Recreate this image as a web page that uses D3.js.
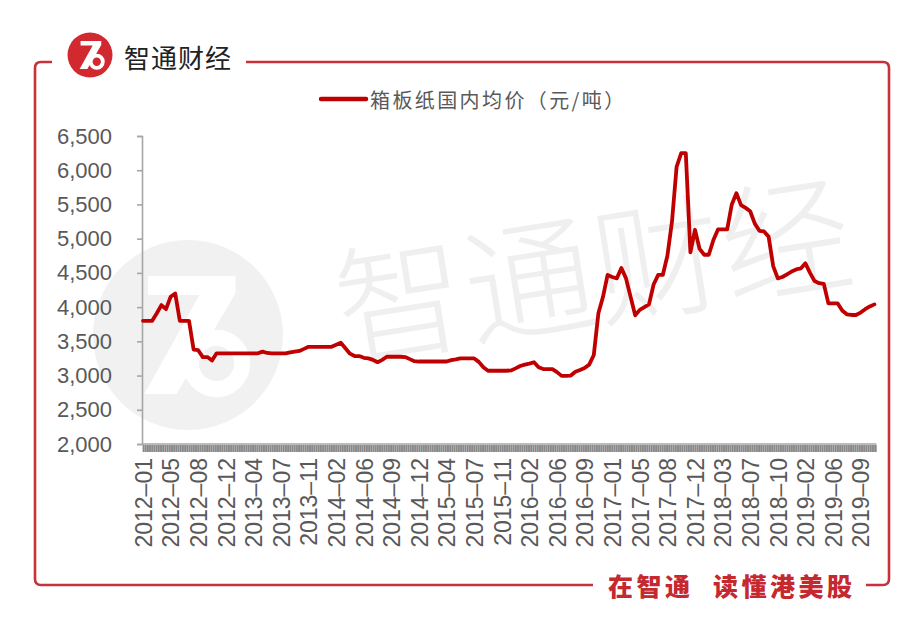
<!DOCTYPE html>
<html>
<head>
<meta charset="utf-8">
<script src="https://cdn.jsdelivr.net/npm/d3@7"></script>
<style>
  body { margin: 0; background: #fff; }
  svg { display: block; }
</style>
</head>
<body>
<svg id="chart" width="924" height="641"></svg>
<script>
// ---------- data ----------
const brandName = "智通财经";
const footerLeft = "在智通";
const footerRight = "读懂港美股";
const seriesName = "箱板纸国内均价（元/吨）";

const tickLabels = [
  "2012-01","2012-05","2012-08","2012-12","2013-04","2013-07","2013-11",
  "2014-02","2014-06","2014-09","2014-12","2015-04","2015-07","2015-11",
  "2016-02","2016-06","2016-09","2017-01","2017-05","2017-08","2017-12",
  "2018-03","2018-07","2018-10","2019-02","2019-06","2019-09"
];
const pointsPerLabel = 6;

const yTicks = [2000, 2500, 3000, 3500, 4000, 4500, 5000, 5500, 6000, 6500];

const values = [
  3800,3800,3800,3910,4030,3970,4150,4200,3800,3800,
  3800,3380,3370,3270,3270,3220,3325,3325,3325,3325,
  3325,3325,3325,3325,3325,3325,3350,3330,3325,3325,
  3325,3325,3340,3350,3360,3390,3420,3420,3420,3420,
  3420,3420,3450,3480,3400,3320,3285,3285,3260,3250,
  3230,3195,3230,3275,3275,3275,3275,3270,3240,3210,
  3205,3205,3205,3205,3205,3205,3205,3225,3235,3250,
  3250,3250,3250,3200,3120,3070,3070,3070,3070,3070,
  3075,3105,3140,3160,3175,3195,3120,3095,3095,3095,
  3050,2995,2995,3000,3055,3080,3110,3160,3300,3910,
  4150,4470,4440,4420,4570,4420,4150,3880,3960,4000,
  4040,4330,4470,4470,4750,5250,6050,6250,6250,4800,
  5130,4850,4765,4765,4980,5135,5135,5135,5500,5665,
  5490,5450,5400,5220,5115,5105,5030,4600,4420,4440,
  4480,4520,4550,4565,4640,4500,4380,4350,4340,4055,
  4055,4055,3950,3895,3885,3885,3920,3970,4010,4040
];

// ---------- setup ----------
const svg = d3.select("#chart");
const RED = "#c8313a";
const LINE_RED = "#c00000";
const GREY_TXT = "#595959";
const AXIS_GREY = "#a6a6a6";
const cjk = "'Noto Sans CJK SC', 'Noto Sans', sans-serif";
const latin = "'Liberation Sans', Arial, sans-serif";

const nIntervals = tickLabels.length - 1;
const x = d3.scaleLinear()
  .domain([0, nIntervals * pointsPerLabel])
  .range([143, 860.6]);
const y = d3.scaleLinear()
  .domain([2000, 6500])
  .range([444, 136]);

// ---------- logo helper ----------
function drawLogo(g, cx, cy, r, fill, inner) {
  const lg = g.append("g").attr("transform", `translate(${cx},${cy}) scale(${r})`);
  lg.append("circle").attr("r", 1).attr("fill", fill);
  lg.append("path")
    .attr("d", "M-0.42,-0.62 L0.5,-0.62 L0.5,-0.44 L-0.12,0.62 L-0.46,0.62 L0.12,-0.42 L-0.42,-0.42 Z")
    .attr("fill", inner);
  lg.append("circle").attr("cx", 0.3).attr("cy", 0.3).attr("r", 0.27)
    .attr("fill", "none").attr("stroke", inner).attr("stroke-width", 0.17);
}

// ---------- watermark ----------
const wm = svg.append("g");
drawLogo(wm, 188, 335, 95, "#f1f1f1", "#ffffff");
wm.append("text")
  .attr("x", 592).attr("y", 262)
  .attr("text-anchor", "middle")
  .attr("dominant-baseline", "central")
  .attr("transform", "rotate(-9,592,262)")
  .attr("font-family", cjk)
  .attr("font-weight", 300)
  .attr("font-size", 130)
  .attr("fill", "#efefef")
  .text(brandName);

// ---------- frame ----------
const frame = svg.append("g").attr("fill", "none").attr("stroke", RED).attr("stroke-width", 2.6);
frame.append("path").attr("d", "M52,62 H41 Q35,62 35,68 V579 Q35,585 41,585 H593");
frame.append("path").attr("d", "M246,62 H883 Q889,62 889,68 V579 Q889,585 883,585 H866");

// header logo + name
drawLogo(svg.append("g"), 90, 55, 22.5, "#d2282f", "#ffffff");
svg.append("text")
  .attr("x", 124).attr("y", 56)
  .attr("dominant-baseline", "central")
  .attr("font-family", cjk)
  .attr("font-size", 26)
  .attr("letter-spacing", 1)
  .attr("fill", "#222")
  .text(brandName);

// footer slogan
const foot = svg.append("g")
  .attr("font-family", cjk).attr("font-weight", 900).attr("font-size", 25)
  .attr("letter-spacing", 3.5).attr("fill", "#c5282f")
  .attr("dominant-baseline", "central");
foot.append("text").attr("x", 608).attr("y", 585).text(footerLeft);
foot.append("text").attr("x", 713).attr("y", 585).text(footerRight);

// ---------- legend ----------
svg.append("line")
  .attr("x1", 321).attr("x2", 366).attr("y1", 99).attr("y2", 99)
  .attr("stroke", LINE_RED).attr("stroke-width", 4.5).attr("stroke-linecap", "round");
svg.append("text")
  .attr("x", 370).attr("y", 99)
  .attr("dominant-baseline", "central")
  .attr("font-family", cjk)
  .attr("font-size", 20)
  .attr("letter-spacing", 2.4)
  .attr("fill", GREY_TXT)
  .text(seriesName);

// ---------- axes ----------
const yAxis = svg.append("g")
  .attr("transform", "translate(142,0)")
  .call(d3.axisLeft(y).tickValues(yTicks).tickSize(5).tickPadding(25)
    .tickFormat(d3.format(",")));
yAxis.select(".domain").attr("stroke", AXIS_GREY).attr("stroke-width", 1.6);
yAxis.selectAll(".tick line").attr("stroke", AXIS_GREY).attr("stroke-width", 1.6);
yAxis.selectAll(".tick text")
  .attr("font-family", latin).attr("font-size", 22).attr("fill", GREY_TXT);

// x axis line
svg.append("line")
  .attr("x1", 142).attr("x2", x(values.length - 1) + 2)
  .attr("y1", 444).attr("y2", 444)
  .attr("stroke", AXIS_GREY).attr("stroke-width", 1.6);

// dense tick band
const fineTicks = d3.range(0, values.length - 0.5, 0.4);
const band = svg.append("g")
  .attr("transform", "translate(0,445)")
  .call(d3.axisBottom(x).tickValues(fineTicks).tickSize(7).tickFormat(""));
band.select(".domain").remove();
band.selectAll(".tick line").attr("stroke", "#8a8a8a").attr("stroke-width", 1.8);

// x labels
const labelIdx = d3.range(tickLabels.length).map(i => i * pointsPerLabel);
const xAxis = svg.append("g")
  .attr("transform", "translate(0,444)")
  .call(d3.axisBottom(x).tickValues(labelIdx).tickSize(0)
    .tickFormat(d => tickLabels[d / pointsPerLabel].replace("-", "\u2013")));
xAxis.select(".domain").remove();
xAxis.selectAll(".tick text")
  .attr("font-family", latin).attr("font-size", 23).attr("fill", GREY_TXT)
  .attr("transform", "rotate(-90)")
  .attr("text-anchor", "end")
  .attr("x", -14).attr("y", 0).attr("dy", "0.36em");

// ---------- series line ----------
const line = d3.line()
  .x((d, i) => x(i))
  .y(d => y(d));
svg.append("path")
  .datum(values)
  .attr("d", line)
  .attr("fill", "none")
  .attr("stroke", LINE_RED)
  .attr("stroke-width", 3.8)
  .attr("stroke-linejoin", "round")
  .attr("stroke-linecap", "round");
</script>
</body>
</html>
